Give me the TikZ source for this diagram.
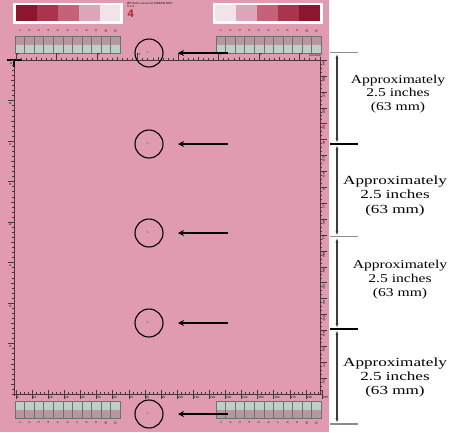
\documentclass[tikz,border=0pt]{standalone}
\usepackage{fontspec}
\setmainfont{Liberation Serif}
\setsansfont{Liberation Sans}
\newfontfamily\dimfont{Liberation Serif}[FakeStretch=1.3]
\newfontfamily\dimfontw{Liberation Serif}[FakeStretch=1.38]
\usetikzlibrary{arrows.meta}
\definecolor{pinkbg}{RGB}{224,155,177}
\definecolor{rulc}{RGB}{70,55,62}
\definecolor{celltop}{RGB}{184,150,160}
\definecolor{cellbot}{RGB}{192,206,200}
\definecolor{celledge}{RGB}{105,115,110}
\definecolor{pA}{RGB}{140,22,48}
\definecolor{pB}{RGB}{170,52,78}
\definecolor{pC}{RGB}{196,98,122}
\definecolor{pD}{RGB}{221,166,186}
\definecolor{pE}{RGB}{242,226,234}
\definecolor{hpred}{RGB}{190,30,40}
\definecolor{dimc}{RGB}{60,60,60}
\definecolor{extg}{RGB}{140,140,140}
\tikzset{
  rul/.style={draw=rulc, line width=0.6pt},
  tickl/.style={draw=rulc, line width=0.35pt},
  tinylab/.style={font=\sffamily\bfseries\fontsize{3.2}{3.5}\selectfont, text=rulc, inner sep=0pt},
  steplab/.style={font=\sffamily\bfseries\fontsize{3}{3.2}\selectfont, text=rulc, inner sep=0pt},
  ringnode/.style={circle, draw=black, line width=1.1pt, minimum size=28pt, inner sep=0pt},
  bigarrow/.style={line width=2pt, -{Stealth[length=6pt,width=6pt]}},
  dimarrow/.style={draw=dimc, line width=1.2pt, {Latex[length=5pt,width=3pt]}-{Latex[length=5pt,width=3pt]}},
  extthin/.style={draw=extg, line width=1.3pt},
  extthick/.style={draw=black, line width=1.5pt},
  dimtxt/.style={align=center, inner sep=0pt, text=black}
}
\newcommand{\stepboxes}[3]{% x0, ytop, inverted (0/1)
  \foreach \k in {0,...,10} {
    \pgfmathsetmacro{\xa}{#1+\k*9.55}
    \pgfmathsetmacro{\xb}{#1+(\k+1)*9.55}
    \ifnum#3=0
      \fill[celltop] (\xa,#2) rectangle (\xb,#2+8.5);
      \fill[cellbot] (\xa,#2+8.5) rectangle (\xb,#2+17);
    \else
      \fill[cellbot] (\xa,#2) rectangle (\xb,#2+8.5);
      \fill[celltop] (\xa,#2+8.5) rectangle (\xb,#2+17);
    \fi
    \draw[celledge, line width=0.5pt] (\xa,#2) rectangle (\xb,#2+17);
  }
}
\begin{document}
\begin{tikzpicture}[x=1pt,y=-1pt]
\useasboundingbox (0,0) rectangle (450,432);
\fill[white] (0,0) rectangle (450,432);
\fill[pinkbg] (0,0) rectangle (329,432);

% colour bars
\fill[white] (13,3) rectangle (123,24);
\fill[pA] (16,5) rectangle (37,21);
\fill[pB] (37,5) rectangle (58,21);
\fill[pC] (58,5) rectangle (79,21);
\fill[pD] (79,5) rectangle (100,21);
\fill[pE] (100,5) rectangle (120,21);
\fill[white] (213,3) rectangle (323,24);
\fill[pE] (215,5) rectangle (236,21);
\fill[pD] (236,5) rectangle (257,21);
\fill[pC] (257,5) rectangle (278,21);
\fill[pB] (278,5) rectangle (299,21);
\fill[pA] (299,5) rectangle (320,21);

% HP label
\node[anchor=north west, inner sep=0pt, font=\sffamily\bfseries\fontsize{3}{3.4}\selectfont, text=rulc, align=left] (hp) at (127,2) {HP Color LaserJet CM6040 MFP\\V 1.1};
\node[anchor=north west, inner sep=0pt, font=\sffamily\bfseries\fontsize{11}{11}\selectfont, text=hpred] (four) at (127.5,10) {4};

% step boxes
\stepboxes{15}{36}{0}
\stepboxes{216}{36}{0}
\stepboxes{15}{401}{1}
\stepboxes{216}{401}{1}
\foreach \k in {1,...,11} {
  \node[steplab, rotate=90] (ltl\k) at ({15+(\k-0.5)*9.55},31) {\k};
  \node[steplab, rotate=90] (ltr\k) at ({216+(\k-0.5)*9.55},31) {\k};
  \node[steplab, rotate=90] (lbl\k) at ({15+(\k-0.5)*9.55},423) {\k};
  \node[steplab, rotate=90] (lbr\k) at ({216+(\k-0.5)*9.55},423) {\k};
}

% top ruler (inches)
\draw[rul] (8,60) -- (322,60);
\draw[black, line width=1.3pt] (7,60) -- (22,60);
\foreach \i in {0,...,60} \draw[tickl] ({16+\i*5.0625},60) -- ++(0,-1.8);
\foreach \i in {0,...,15} \draw[tickl] ({16+\i*20.25},60) -- ++(0,-3);
\foreach \i in {0,...,7} {
  \draw[tickl] ({16+\i*40.5},60) -- ++(0,-7);
  \node[tinylab, anchor=north west] (ti\i) at ({16.8+\i*40.5},53.5) {\i};
}
\node[tinylab, anchor=north west] (inch) at (309,53.5) {(inches)};

% left ruler
\draw[rul] (14,60) -- (14,396);
\draw[black, line width=1.2pt] (14,60) -- (14,67);
\foreach \i in {0,...,66} \draw[tickl] (14,{60+\i*5.0625}) -- ++(-1.8,0);
\foreach \i in {0,...,16} \draw[tickl] (14,{60+\i*20.25}) -- ++(-3,0);
\node[tinylab, anchor=north] (lA) at (11,62) {A};
\foreach \l [count=\k] in {B,C,D,E,F,G,H} {
  \draw[tickl] (8,{60+\k*40.5}) -- (14,{60+\k*40.5});
  \node[tinylab, rotate=90, anchor=east] (l\l) at (10.3,{61.5+\k*40.5}) {\l};
}

% bottom ruler (mm)
\draw[rul] (14,394) -- (322,394);
\foreach \m in {0,...,76} \draw[tickl] ({16+\m*2.5*1.61},394) -- ++(0,-1.8);
\foreach \m in {0,...,19} {
  \pgfmathtruncatemacro{\lab}{\m*10}
  \draw[tickl] ({16+\m*16.1},390) -- ++(0,9);
  \node[tinylab, anchor=north west] (bm\m) at ({16.6+\m*16.1},395.8) {\lab};
}

% right ruler
\draw[rul] (320,58) -- (320,394);
\foreach \i in {0,...,84} \draw[tickl] (320,{60+\i*3.975}) -- ++(1.8,0);
\foreach \l [count=\k from 0] in {AA,BB,CC,DD,EE,FF,GG,HH,II,JJ,KK,LL,MM,NN,OO,PP,QQ,RR,SS,TT,UU} {
  \draw[tickl] (320,{60+\k*15.9}) -- (327,{60+\k*15.9});
  \node[tinylab, rotate=-90, anchor=west] (r\l) at (323.8,{61.3+\k*15.9}) {\l};
}

% circles with marks and arrows
\foreach \y [count=\n] in {53,144,233,323,414} {
  \node[ringnode] (c\n) at (149,\y) {};
  \fill[gray!65!pinkbg, rotate around={-30:(147.5,\y-1)}] (147.5,\y-1) ellipse (1.6pt and 0.8pt);
  \coordinate (t\n) at (228,\y);
  \coordinate (h\n) at (178,\y);
  \draw[bigarrow] (t\n) -- (h\n);
}

% dimension lines
\coordinate (d0) at (337,52.7);
\coordinate (d1) at (337,144);
\coordinate (d2) at (337,236.7);
\coordinate (d3) at (337,329);
\coordinate (d4) at (337,424);
\draw[extthin] (330,52.7) -- (358,52.7);
\draw[extthick] (330,144) -- (358,144);
\draw[extthin] (330,236.7) -- (358,236.7);
\draw[extthick] (330,329) -- (358,329);
\draw[extthin] (330,424) -- (358,424);
\draw[dimarrow, shorten <=0.8pt, shorten >=0.8pt] (d0) -- (d1);
\draw[dimarrow, shorten <=0.8pt, shorten >=0.8pt] (d1) -- (d2);
\draw[dimarrow, shorten <=0.8pt, shorten >=0.8pt] (d2) -- (d3);
\draw[dimarrow, shorten <=0.8pt, shorten >=0.8pt] (d3) -- (d4);

\node[dimtxt, font=\dimfont\fontsize{12}{13.5}\selectfont] (txt1) at (398,94) {Approximately\\2.5 inches\\(63 mm)};
\node[dimtxt, font=\dimfontw\fontsize{12.4}{14.5}\selectfont] (txt2) at (395,196) {Approximately\\2.5 inches\\(63 mm)};
\node[dimtxt, font=\dimfont\fontsize{12}{14}\selectfont] (txt3) at (400,280) {Approximately\\2.5 inches\\(63 mm)};
\node[dimtxt, font=\dimfontw\fontsize{12.4}{14}\selectfont] (txt4) at (395,378) {Approximately\\2.5 inches\\(63 mm)};
\end{tikzpicture}
\end{document}
